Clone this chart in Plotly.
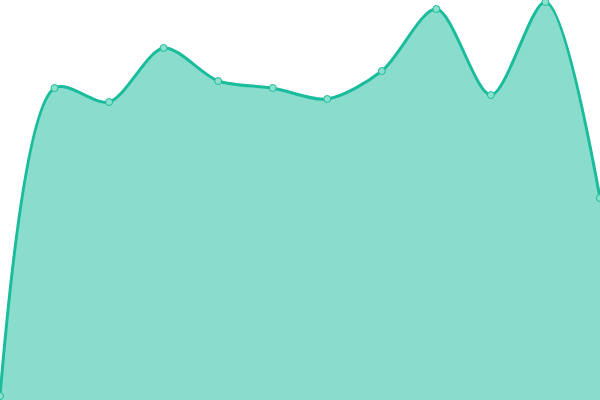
import plotly.graph_objects as go

x_idx = list(range(12))
values = [4, 312, 298, 352, 319, 312, 301, 329, 391, 305, 398, 202]

fig = go.Figure()
fig.add_trace(go.Scatter(
    x=x_idx, y=values, mode="lines+markers",
    line=dict(color="#1abc9c", width=3, shape="spline", smoothing=0.85),
    fill="tozeroy", fillcolor="rgba(26,188,156,0.51)",
    marker=dict(size=7, color="#8ce0ce", line=dict(color="#1abc9c", width=1)),
    hoverinfo="skip",
))
fig.update_layout(
    width=600, height=400,
    margin=dict(l=0, r=0, t=0, b=0),
    paper_bgcolor="white", plot_bgcolor="white",
    showlegend=False,
    xaxis=dict(range=[0, 11], visible=False, fixedrange=True),
    yaxis=dict(range=[0, 400], visible=False, fixedrange=True),
)
fig.write_html(
    "out.html",
    config={"displayModeBar": False},
    post_script="document.body.style.margin='0';document.body.style.overflow='hidden';",
)
